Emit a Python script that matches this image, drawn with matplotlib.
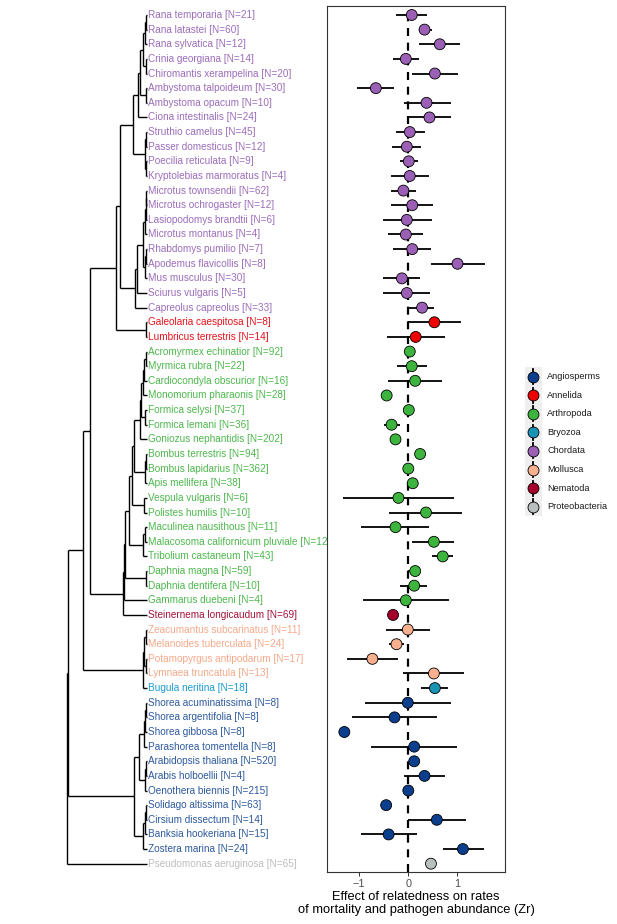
import matplotlib
matplotlib.use("Agg")
import matplotlib.pyplot as plt
from matplotlib.patches import Rectangle

plt.rcParams['font.family'] = ['Liberation Sans', 'DejaVu Sans']

# ---------------- data ----------------
species = [
    "Rana temporaria", "Rana latastei", "Rana sylvatica", "Crinia georgiana",
    "Chiromantis xerampelina", "Ambystoma talpoideum", "Ambystoma opacum",
    "Ciona intestinalis", "Struthio camelus", "Passer domesticus",
    "Poecilia reticulata", "Kryptolebias marmoratus", "Microtus townsendii",
    "Microtus ochrogaster", "Lasiopodomys brandtii", "Microtus montanus",
    "Rhabdomys pumilio", "Apodemus flavicollis", "Mus musculus",
    "Sciurus vulgaris", "Capreolus capreolus",
    "Galeolaria caespitosa", "Lumbricus terrestris",
    "Acromyrmex echinatior", "Myrmica rubra", "Cardiocondyla obscurior",
    "Monomorium pharaonis", "Formica selysi", "Formica lemani",
    "Goniozus nephantidis", "Bombus terrestris", "Bombus lapidarius",
    "Apis mellifera", "Vespula vulgaris", "Polistes humilis",
    "Maculinea nausithous", "Malacosoma californicum pluviale",
    "Tribolium castaneum", "Daphnia magna", "Daphnia dentifera",
    "Gammarus duebeni",
    "Steinernema longicaudum",
    "Zeacumantus subcarinatus", "Melanoides tuberculata",
    "Potamopyrgus antipodarum", "Lymnaea truncatula",
    "Bugula neritina",
    "Shorea acuminatissima", "Shorea argentifolia", "Shorea gibbosa",
    "Parashorea tomentella", "Arabidopsis thaliana", "Arabis holboellii",
    "Oenothera biennis", "Solidago altissima", "Cirsium dissectum",
    "Banksia hookeriana", "Zostera marina",
    "Pseudomonas aeruginosa",
]
n_obs = [21, 60, 12, 14, 20, 30, 10, 24, 45, 12, 9, 4, 62, 12, 6, 4, 7, 8, 30, 5, 33,
         8, 14,
         92, 22, 16, 28, 37, 36, 202, 94, 362, 38, 6, 10, 11, 12, 43, 59, 10, 4,
         69,
         11, 24, 17, 13,
         18,
         8, 8, 8, 8, 520, 4, 215, 63, 14, 15, 24,
         65]
group = (["Chordata"] * 21 + ["Annelida"] * 2 + ["Arthropoda"] * 18 + ["Nematoda"]
         + ["Mollusca"] * 4 + ["Bryozoa"] + ["Angiosperms"] * 11 + ["Proteobacteria"])

effect = [0.07, 0.33, 0.64, -0.05, 0.54, -0.66, 0.37, 0.43, 0.03, -0.03, 0.01, 0.03,
          -0.10, 0.08, -0.03, -0.05, 0.08, 1.00, -0.13, -0.03, 0.28,
          0.53, 0.15,
          0.03, 0.07, 0.14, -0.44, 0.01, -0.34, -0.26, 0.24, 0.00, 0.09, -0.20, 0.36,
          -0.26, 0.52, 0.70, 0.14, 0.12, -0.05,
          -0.31,
          -0.01, -0.24, -0.73, 0.52,
          0.54,
          -0.01, -0.28, -1.30, 0.12, 0.12, 0.33, 0.00, -0.45, 0.58, -0.40, 1.11,
          0.46]
ci_low = [-0.24, 0.21, 0.22, -0.32, 0.08, -1.04, -0.09, 0.01, -0.26, -0.33, -0.17, -0.36,
          -0.36, -0.35, -0.52, -0.42, -0.32, 0.46, -0.51, -0.51, 0.00,
          0.00, -0.43,
          -0.04, -0.23, -0.41, -0.48, -0.03, -0.49, -0.31, 0.20, -0.04, 0.05, -1.33, -0.39,
          -0.96, 0.08, 0.49, 0.00, -0.17, -0.93,
          -0.35,
          -0.45, -0.40, -1.25, -0.10,
          0.26,
          -0.88, -1.15, -1.34, -0.76, 0.08, -0.09, -0.04, -0.49, 0.00, -0.97, 0.70,
          0.42]
ci_high = [0.39, 0.48, 1.06, 0.22, 1.02, -0.29, 0.86, 0.86, 0.34, 0.26, 0.20, 0.42,
           0.15, 0.51, 0.49, 0.30, 0.46, 1.55, 0.24, 0.44, 0.53,
           1.08, 0.75,
           0.10, 0.37, 0.68, -0.40, 0.05, -0.17, -0.21, 0.28, 0.04, 0.13, 0.93, 1.10,
           0.43, 0.93, 0.91, 0.20, 0.39, 0.83,
           -0.27,
           0.44, -0.08, -0.20, 1.14,
           0.81,
           0.87, 0.59, -1.26, 0.99, 0.16, 0.75, 0.04, -0.41, 1.17, 0.17, 1.53,
           0.50]

legend_groups = ["Angiosperms", "Annelida", "Arthropoda", "Bryozoa", "Chordata",
                 "Mollusca", "Nematoda", "Proteobacteria"]
x_ticks = [-1, 0, 1]
x_ticklabels = ["\u22121", "0", "1"]
x_title = "Effect of relatedness on rates\nof mortality and pathogen abundance (Zr)"

# phylogeny: [node depth, child, child, ...]; tips are species names
tree = [66.7,
  [68.3,
    [82.7,
      [90.0,
        [115.5,
          [120.0,
            [132.7,
              [138.3,
                [140.0,
                  [142.7,
                    [144.5, [145.8, "Rana temporaria", "Rana latastei"], "Rana sylvatica"],
                    [145.5, "Crinia georgiana", "Chiromantis xerampelina"]],
                  [145.5, "Ambystoma talpoideum", "Ambystoma opacum"]],
                "Ciona intestinalis"],
              [144.5,
                [146.0, "Struthio camelus", "Passer domesticus"],
                [146.0, "Poecilia reticulata", "Kryptolebias marmoratus"]]],
            [134.5,
              [136.5,
                [143.3,
                  [145.0, [145.6, [146.2, "Microtus townsendii", "Microtus ochrogaster"],
                                  "Lasiopodomys brandtii"], "Microtus montanus"],
                  [145.0, [146.0, "Rhabdomys pumilio", "Apodemus flavicollis"], "Mus musculus"]],
                "Sciurus vulgaris"],
              "Capreolus capreolus"]],
          [145.5, "Galeolaria caespitosa", "Lumbricus terrestris"]],
        [122.7,
          [123.5,
            [125.0,
              [129.3,
                [131.7,
                  [134.3,
                    [139.5,
                      [140.7,
                        [143.3, [144.3, [145.7, "Acromyrmex echinatior", "Myrmica rubra"],
                                         "Cardiocondyla obscurior"], "Monomorium pharaonis"],
                        [145.0, "Formica selysi", "Formica lemani"]],
                      "Goniozus nephantidis"],
                    [145.0, [145.7, "Bombus terrestris", "Bombus lapidarius"], "Apis mellifera"]],
                  [144.3, "Vespula vulgaris", "Polistes humilis"]],
                [143.3, [145.0, "Maculinea nausithous", "Malacosoma californicum pluviale"],
                        "Tribolium castaneum"]],
              [145.5, "Daphnia magna", "Daphnia dentifera"]],
            "Gammarus duebeni"],
          "Steinernema longicaudum"]],
      [142.5,
        [143.5,
          [146.0, "Zeacumantus subcarinatus", "Melanoides tuberculata"],
          [146.0, "Potamopyrgus antipodarum", "Lymnaea truncatula"]],
        "Bugula neritina"]],
    [134.0,
      [139.3,
        [144.0, [145.0, [146.0, "Shorea acuminatissima", "Shorea argentifolia"], "Shorea gibbosa"],
                "Parashorea tomentella"],
        [145.0, [146.0, "Arabidopsis thaliana", "Arabis holboellii"], "Oenothera biennis"]],
      [143.3, [144.5, [146.0, "Solidago altissima", "Cirsium dissectum"], "Banksia hookeriana"],
              "Zostera marina"]]],
  "Pseudomonas aeruginosa"]
tip_depth = 146.7

# ---------------- styles ----------------
fill_col = {"Angiosperms": "#0B3F8E", "Annelida": "#EE0000", "Arthropoda": "#3DB43D",
            "Bryozoa": "#1B93B5", "Chordata": "#9B5FB5", "Mollusca": "#F9B08F",
            "Nematoda": "#A5002A", "Proteobacteria": "#B9BFBF"}
text_col = {"Angiosperms": "#2E5A9E", "Annelida": "#E8141C", "Arthropoda": "#4DB84D",
            "Bryozoa": "#1A9BD0", "Chordata": "#9C6DBA", "Mollusca": "#F5A98A",
            "Nematoda": "#A3133B", "Proteobacteria": "#BEBEBE"}

W, H = 617, 924
fig = plt.figure(figsize=(W / 100, H / 100), dpi=100)
fig.patch.set_facecolor("white")

top_px, bot_px = 6.0, 871.7
row0_px, rowN_px = 15.0, 863.7
nrow = len(species)
step = (rowN_px - row0_px) / (nrow - 1)
ylim = ((bot_px - row0_px) / step, (top_px - row0_px) / step)

# ---------------- tree axes ----------------
left_px, right_px = 327.0, 505.0
axT = fig.add_axes([0, 1 - bot_px / H, left_px / W, (bot_px - top_px) / H])
axT.set_xlim(0, left_px)
axT.set_ylim(*ylim)
axT.axis("off")

idx = {s: i for i, s in enumerate(species)}
lw_tree = 1.0


def draw(node):
    if isinstance(node, str):
        return tip_depth, idx[node]
    x = node[0]
    pts = [draw(c) for c in node[1:]]
    ys = [p[1] for p in pts]
    axT.plot([x, x], [min(ys), max(ys)], color="black", lw=lw_tree,
             solid_capstyle="butt", zorder=2)
    for cx, cy in pts:
        axT.plot([x, cx], [cy, cy], color="black", lw=lw_tree,
                 solid_capstyle="butt", zorder=2)
    return x, (min(ys) + max(ys)) / 2


draw(tree)

for i, (s, n, g) in enumerate(zip(species, n_obs, group)):
    axT.text(148.0, i, f"{s} [N={n}]", color=text_col[g], fontsize=7.2,
             ha="left", va="center", clip_on=False, zorder=1)

# ---------------- forest axes ----------------
axF = fig.add_axes([left_px / W, 1 - bot_px / H, (right_px - left_px) / W,
                    (bot_px - top_px) / H])
axF.set_facecolor("white")
x0_px, per_unit = 408.3, 49.2
axF.set_xlim((left_px - x0_px) / per_unit, (right_px - x0_px) / per_unit)
axF.set_ylim(*ylim)

ys = list(range(nrow))
axF.axvline(0, color="black", lw=1.6, ls=(0, (3.6, 3.0)), zorder=1)
axF.hlines(ys, ci_low, ci_high, color="black", lw=1.3, zorder=2)
axF.scatter(effect, ys, s=62, c=[fill_col[g] for g in group], edgecolors="black",
            linewidths=0.6, zorder=3)

axF.set_yticks([])
axF.set_xticks(x_ticks)
axF.set_xticklabels(x_ticklabels, fontsize=7.8, color="#4D4D4D")
axF.tick_params(axis="x", length=3, width=0.7, color="#333333", pad=2)
for sp in axF.spines.values():
    sp.set_color("#333333")
    sp.set_linewidth(0.8)

fig.text(((left_px + right_px) / 2) / W, 1 - 903.5 / H, x_title, ha="center",
         va="center", fontsize=9.3, color="black", linespacing=1.05)

# ---------------- legend ----------------
axL = fig.add_axes([0, 0, 1, 1], facecolor="none")
axL.set_xlim(0, W)
axL.set_ylim(H, 0)
axL.axis("off")
leg_y0, leg_step = 376.7, 18.57
key_x = 533.3
axL.add_patch(Rectangle((524.5, leg_y0 - 9.3), 17.5, leg_step * 7 + 18.6,
                        facecolor="#EFEFEF", edgecolor="none", zorder=1))
for k, g in enumerate(legend_groups):
    yy = leg_y0 + k * leg_step
    axL.plot([key_x, key_x], [yy - 7.5, yy + 7.5], color="black", lw=1.3, zorder=2)
    axL.scatter([key_x], [yy], s=62, c=fill_col[g], edgecolors="black",
                linewidths=0.6, zorder=3)
    axL.text(547, yy, g, fontsize=6.6, color="#1A1A1A", ha="left", va="center")

fig.savefig("out.png", dpi=100)
